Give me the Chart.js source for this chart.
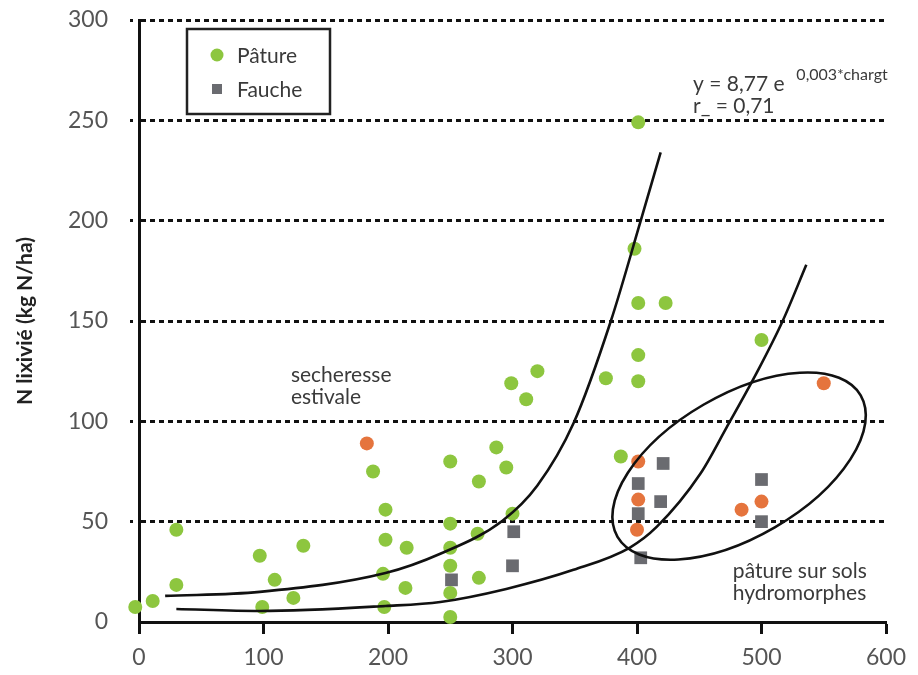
<!DOCTYPE html>
<html>
<head>
<meta charset="utf-8">
<script src="https://cdn.jsdelivr.net/npm/chart.js@4.4.1/dist/chart.umd.min.js"></script>
<style>
  body { margin: 0; background: #fff; }
</style>
</head>
<body>
<canvas id="myChart" width="918" height="675"></canvas>
<script>
// values (charge in x, N lixivié in y)
var patureX = [-3, 11, 30, 30, 97, 109, 99, 124, 132, 188, 198, 198, 196, 197, 215, 214,
               250, 250, 250, 250, 250, 250, 273, 273, 272, 287, 295, 300, 299, 320, 311,
               375, 401, 401, 387, 500, 401, 398, 401, 423];
var patureY = [7.5, 10.5, 46, 18.5, 33, 21, 7.5, 12, 38, 75, 56, 41, 24, 7.5, 37, 17,
               80, 49, 37, 28, 14.5, 2.5, 70, 22, 44, 87, 77, 54, 119, 125, 111,
               121.5, 133, 120, 82.5, 140.5, 249, 186, 159, 159];

var faucheX = [251, 301, 300, 401, 401, 403, 421, 419, 500, 500];
var faucheY = [21, 45, 28, 69, 54, 32, 79, 60, 71, 50];

// orange points, not in the legend
var autresX = [183, 401, 401, 400, 484, 500, 550];
var autresY = [89, 80, 61, 46, 56, 60, 119];

// the two hand drawn curves
var courbe1X = [21, 97, 198, 242, 292, 320, 349, 379, 403, 419];
var courbe1Y = [13, 15, 24.4, 34, 50.5, 68, 99, 150, 200, 234];
var courbe2X = [30, 97, 198, 242, 295, 349, 394, 416, 451, 472, 496, 517, 536];
var courbe2Y = [6.5, 5.5, 8, 10, 16.5, 26, 37, 47.5, 74, 97, 124, 150, 178];

var xTicks = [0, 100, 200, 300, 400, 500, 600];
var yTicks = [0, 50, 100, 150, 200, 250, 300];

function pts(xs, ys) {
    return xs.map(function (x, i) { return {x: x, y: ys[i]}; });
}

var fontName = 'Lato, "Open Sans", sans-serif';
var green = '#8dc63f', grey = '#6a6b70', orange = '#e5743d';

// ellipse round the hydromorphic plots: centre in data units, radii in x units
var ellipse = {cx: 482, cy: 77.7, rx: 113, ry: 57, angle: -30.2};

var notes = [
    {text: 'secheresse', x: 122, y: 123, size: 21},
    {text: 'estivale', x: 122, y: 112, size: 21},
    {text: 'pâture sur sols', x: 477, y: 25.4, size: 21},
    {text: 'hydromorphes', x: 477, y: 14.4, size: 21},
    {text: 'y = 8,77 e', x: 445, y: 268, size: 21},
    {text: '0,003*chargt', x: 528, y: 272.5, size: 16},
    {text: 'r_ = 0,71', x: 445, y: 257, size: 21}
];

var extras = {
    id: 'extras',
    afterDatasetsDraw: function (chart) {
        var c = chart.ctx, xs = chart.scales.x, ys = chart.scales.y, a = chart.chartArea;
        var unit = xs.getPixelForValue(1) - xs.getPixelForValue(0);
        c.save();
        // ellipse
        c.beginPath();
        c.ellipse(xs.getPixelForValue(ellipse.cx), ys.getPixelForValue(ellipse.cy),
                  ellipse.rx * unit, ellipse.ry * unit, ellipse.angle * Math.PI / 180, 0, 2 * Math.PI);
        c.lineWidth = 2.6;
        c.strokeStyle = '#111';
        c.stroke();
        // notes
        c.fillStyle = '#3a3a3a';
        c.textBaseline = 'middle';
        c.textAlign = 'left';
        notes.forEach(function (n) {
            c.font = n.size + 'px ' + fontName;
            c.fillText(n.text, xs.getPixelForValue(n.x), ys.getPixelForValue(n.y));
        });
        // legend box
        var bx = a.left + 48, by = a.top + 9;
        c.lineWidth = 2.5;
        c.strokeStyle = '#222';
        c.strokeRect(bx, by, 143, 85);
        c.fillStyle = green;
        c.beginPath();
        c.arc(bx + 30, by + 26, 6.5, 0, 2 * Math.PI);
        c.fill();
        c.fillStyle = grey;
        c.fillRect(bx + 25, by + 55, 10, 10);
        c.fillStyle = '#3a3a3a';
        c.font = '21px ' + fontName;
        c.fillText(chart.data.datasets[2].label, bx + 50, by + 27);
        c.fillText(chart.data.datasets[3].label, bx + 50, by + 61);
        c.restore();
    }
};

var ctx = document.getElementById('myChart');
var myChart = new Chart(ctx, {
    type: 'scatter',
    data: {
        datasets: [{
            label: 'courbe 1',
            data: pts(courbe1X, courbe1Y),
            showLine: true,
            borderColor: '#111',
            borderWidth: 2.6,
            pointRadius: 0,
            cubicInterpolationMode: 'monotone'
        }, {
            label: 'courbe 2',
            data: pts(courbe2X, courbe2Y),
            showLine: true,
            borderColor: '#111',
            borderWidth: 2.6,
            pointRadius: 0,
            cubicInterpolationMode: 'monotone'
        }, {
            label: 'Pâture',
            data: pts(patureX, patureY),
            backgroundColor: green,
            borderWidth: 0,
            pointRadius: 7,
            clip: false
        }, {
            label: 'Fauche',
            data: pts(faucheX, faucheY),
            backgroundColor: grey,
            borderWidth: 0,
            pointStyle: 'rect',
            pointRadius: 9,
            clip: false
        }, {
            label: 'autres',
            data: pts(autresX, autresY),
            backgroundColor: orange,
            borderWidth: 0,
            pointRadius: 7,
            clip: false
        }]
    },
    options: {
        responsive: false,
        animation: false,
        layout: {padding: {top: 20, right: 32, left: 0, bottom: 0}},
        plugins: {
            legend: {display: false},
            tooltip: {enabled: false}
        },
        scales: {
            x: {
                type: 'linear',
                min: 0,
                max: 600,
                afterBuildTicks: function (s) { s.ticks = xTicks.map(function (v) { return {value: v}; }); },
                afterFit: function (s) { s.height = 53; },
                ticks: {font: {family: fontName, size: 23}, color: '#555', padding: 10},
                grid: {drawOnChartArea: false, drawTicks: true, tickLength: 12, tickColor: '#111', tickWidth: 3},
                border: {display: true, color: '#111', width: 3}
            },
            y: {
                min: 0,
                max: 300,
                afterBuildTicks: function (s) { s.ticks = yTicks.map(function (v) { return {value: v}; }); },
                afterFit: function (s) { s.width = 139; s.paddingTop = 0; s.paddingBottom = 0; },
                ticks: {font: {family: fontName, size: 23}, color: '#555', padding: 22},
                grid: {
                    color: function (c) { return c.tick && c.tick.value === 0 ? 'rgba(0,0,0,0)' : '#111'; },
                    tickColor: function (c) { return c.tick && c.tick.value === 0 ? 'rgba(0,0,0,0)' : '#111'; },
                    lineWidth: 3,
                    tickLength: 9,
                    tickBorderDash: [3, 6]
                },
                border: {display: true, color: '#111', width: 3, dash: [5, 4]},
                title: {
                    display: true,
                    text: 'N lixivié (kg N/ha)',
                    font: {family: fontName, size: 21, weight: 'bold'},
                    color: '#222',
                    padding: {top: 13, bottom: 0}
                }
            }
        }
    },
    plugins: [extras]
});
</script>
</body>
</html>
